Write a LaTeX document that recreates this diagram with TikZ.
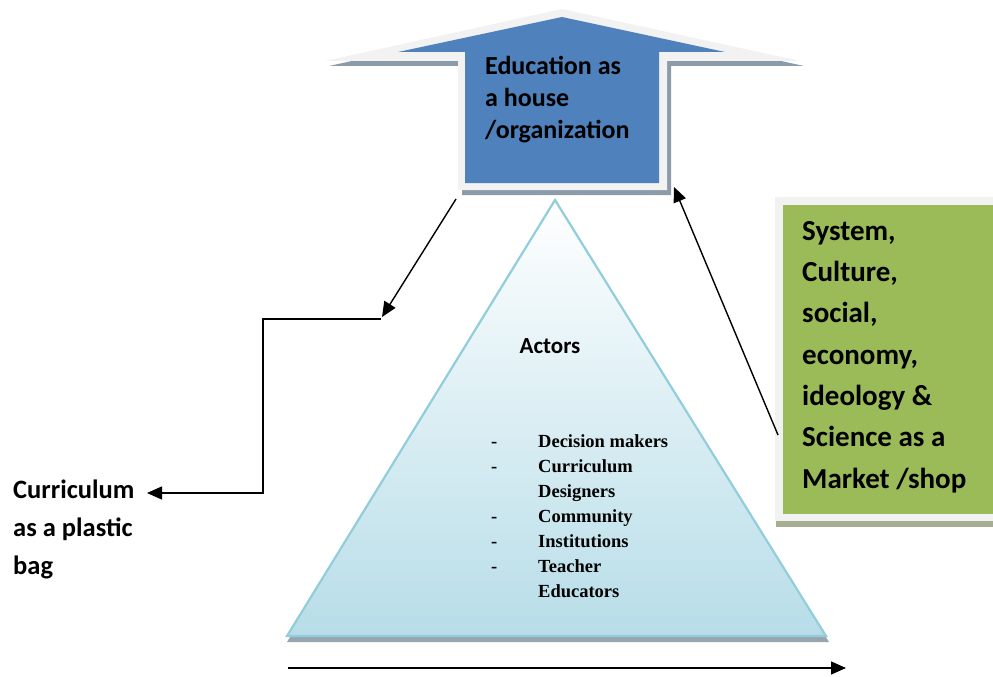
\documentclass[tikz,border=0pt]{standalone}
\usepackage{fontspec}
\setmainfont{Carlito}
\newfontfamily\listfont{Liberation Serif}
\usetikzlibrary{arrows.meta, positioning}

\definecolor{houseblue}{HTML}{4F81BD}
\definecolor{rimgray}{HTML}{F2F2F2}
\definecolor{shadegray}{HTML}{8C9BA8}
\definecolor{marketgreen}{HTML}{9BBB59}
\definecolor{marketshade}{HTML}{A6AE90}
\definecolor{pyrbottom}{HTML}{B7DDE8}
\definecolor{pyredge}{HTML}{92CDDC}

\begin{document}
\begin{tikzpicture}[x=1pt, y=-1pt,
    flow/.style={-{Triangle[length=15pt, width=13pt]}, line width=1.4pt},
    lbl/.style={inner sep=0pt, align=left, anchor=base west, font=\bfseries\fontsize{26.5}{38}\selectfont}]
  \useasboundingbox (0,0) rectangle (993,677);

  % house: shadow, light rim, blue body
  \fill[shadegray] (329,66) -- (566,14) -- (804,66) -- (671,66) -- (671,195) -- (462,195) -- (462,66) -- cycle;
  \fill[rimgray] (325,61) -- (562,9) -- (800,61) -- (667,61) -- (667,190) -- (458,190) -- (458,61) -- cycle;
  \fill[houseblue] (398,52) -- (562,17) -- (725,52) -- (659,52) -- (659,183) -- (465,183) -- (465,52) -- cycle;
  % (base of a multi-line node = last line)
  \node[lbl, font=\bfseries\fontsize{26}{32}\selectfont] (house) at (485,138) {Education as\\a house\\/organization};

  % actors pyramid
  \fill[shadegray!90] (287,642) -- (556,206) -- (829,642) -- cycle;
  \draw[pyredge, line width=2.2pt, top color=white, bottom color=pyrbottom] (287,636) -- (555,200) -- (826,636) -- cycle;
  \node[anchor=base, inner sep=0pt, font=\bfseries\fontsize{23}{26}\selectfont] (actors) at (550,353) {Actors};
  \node[anchor=base west, inner sep=0pt, font=\listfont\bfseries\fontsize{18.5}{25}\selectfont] (actorlist) at (491,447) {%
    \begin{tabular}[t]{@{}p{47pt}@{}l@{}}
      - & Decision makers\\
      - & Curriculum\\
        & Designers\\
      - & Community\\
      - & Institutions\\
      - & Teacher\\
        & Educators
    \end{tabular}};

  % market box
  \fill[marketshade] (776,205) rectangle (993,527);
  \fill[rimgray] (775,197) rectangle (993,521);
  \fill[marketgreen] (783,205) rectangle (993,514);
  \node[lbl, font=\bfseries\fontsize{29}{41.3}\selectfont] (market) at (802,488) {System,\\Culture,\\social,\\economy,\\ideology \&\\Science as a\\Market /shop};

  % plastic bag
  \node[lbl] (bag) at (13,574) {Curriculum\\as a plastic\\bag};

  % connectors
  \coordinate (houseout) at (456,199);
  \coordinate (split) at (382,317);
  \coordinate (elbow) at (381,319);
  \coordinate (bagin) at (147,493);
  \coordinate (marketout) at (778,435);
  \coordinate (housein) at (674,187);
  \coordinate (axisL) at (288,668);
  \coordinate (axisR) at (846,668);

  \draw[flow] (houseout) -- (split);
  \draw[flow] (elbow) -- ++(-118,0) |- (bagin);
  \draw[flow] (marketout) -- (housein);
  \draw[flow] (axisL) -- (axisR);
\end{tikzpicture}
\end{document}
